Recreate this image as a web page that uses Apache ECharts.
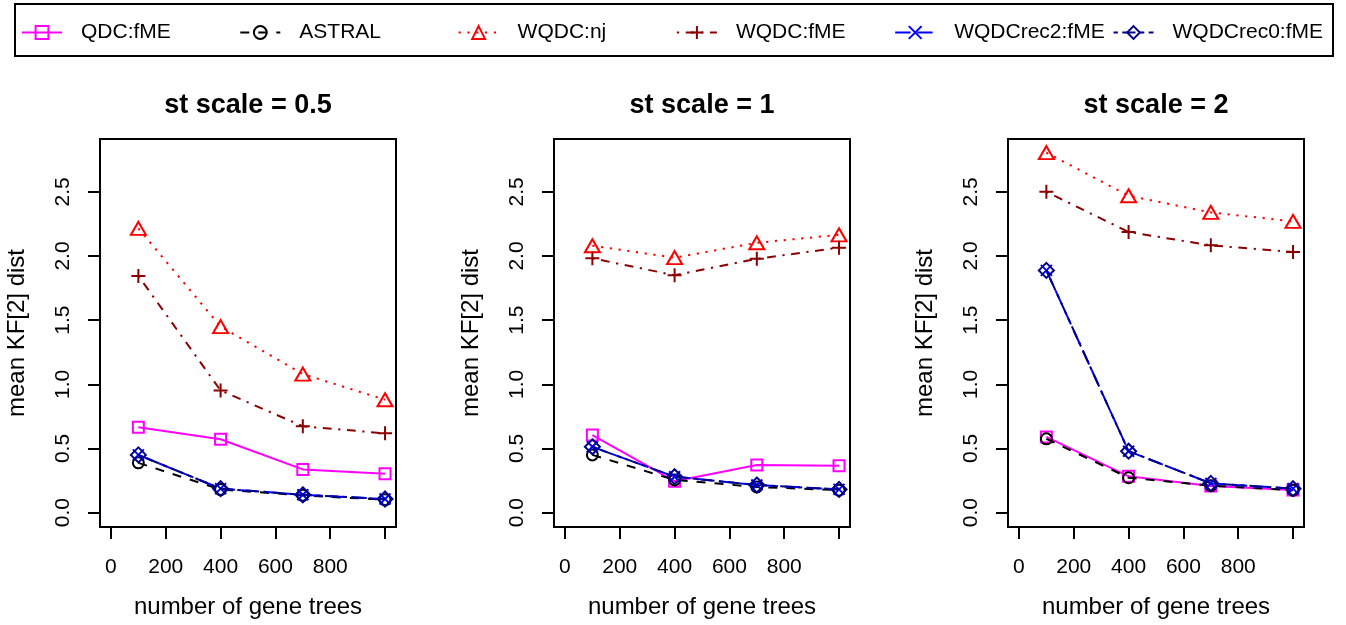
<!DOCTYPE html>
<html><head><meta charset="utf-8">
<script src="https://cdn.jsdelivr.net/npm/echarts@6/dist/echarts.min.js"></script>
<style>html,body{margin:0;padding:0;background:#fff}#c{width:1346px;height:625px}</style>
</head><body><div id="c"></div>
<script>
// ---- data ----
const geneTrees = [100, 400, 700, 1000];
const panelTitles = ['st scale = 0.5', 'st scale = 1', 'st scale = 2'];
const xTicks = [0, 200, 400, 600, 800, 1000];
const xTickLabels = [0, 200, 400, 600, 800];
const yTicks = [0, 0.5, 1, 1.5, 2, 2.5];
const seriesNames = ['QDC:fME', 'ASTRAL', 'WQDC:nj', 'WQDC:fME', 'WQDCrec2:fME', 'WQDCrec0:fME'];
// values per panel: [st scale 0.5, st scale 1, st scale 2]
const qdcFME     = [[0.665, 0.572, 0.337, 0.303], [0.605, 0.245, 0.372, 0.365], [0.590, 0.283, 0.207, 0.176]];
const astral     = [[0.388, 0.180, 0.135, 0.100], [0.450, 0.255, 0.200, 0.175], [0.575, 0.272, 0.210, 0.175]];
const wqdcNj     = [[2.215, 1.450, 1.080, 0.880], [2.080, 1.987, 2.103, 2.165], [2.806, 2.470, 2.340, 2.270]];
const wqdcFME    = [[1.845, 0.952, 0.673, 0.618], [1.982, 1.850, 1.978, 2.065], [2.500, 2.187, 2.083, 2.031]];
const wqdcRec2   = [[0.450, 0.187, 0.139, 0.106], [0.513, 0.280, 0.215, 0.181], [1.888, 0.479, 0.228, 0.187]];
const wqdcRec0   = [[0.450, 0.187, 0.139, 0.106], [0.513, 0.280, 0.215, 0.181], [1.888, 0.479, 0.228, 0.187]];

// ---- styles ----
const seriesValues = [qdcFME, astral, wqdcNj, wqdcFME, wqdcRec2, wqdcRec0];
const colors = ['#FF00FF', '#000000', '#FF0000', '#8B0000', '#0000FF', '#00008B'];
const dashes = ['solid', [9, 9], [2.2, 6.6], [2.2, 6.6, 8.8, 6.6], [15.4, 6.6], [4.4, 4.4, 13.2, 4.4]];
const symbols = ['rect', 'circle', 'triangle', 'path://M5,0L5,10M0,5L10,5', 'path://M0,0L10,10M10,0L0,10', 'diamond'];
const symbolSizes = [11, 11, [15, 13], 14, 11, 15];

const FONT = '"Liberation Sans", Arial, Helvetica, sans-serif';
const gridLeft0 = 100, gridStep = 454, gridW = 296, gridTop = 139, gridH = 388;
const legendLeft0 = 21, legendStep = 218.3;

const grids = [], xAxes = [], yAxes = [], titles = [], series = [];
for (let p = 0; p < 3; p++) {
  const left = gridLeft0 + p * gridStep;
  grids.push({left: left, top: gridTop, width: gridW, height: gridH, show: true,
    borderColor: '#000', borderWidth: 2, backgroundColor: 'transparent', containLabel: false});
  xAxes.push({gridIndex: p, type: 'value', min: -40, max: 1040,
    axisLine: {show: false, onZero: false}, splitLine: {show: false},
    axisTick: {show: true, customValues: xTicks, length: 12, lineStyle: {color: '#000', width: 2}},
    axisLabel: {customValues: xTickLabels, margin: 30, fontSize: 21, color: '#000', fontFamily: FONT},
    name: 'number of gene trees', nameLocation: 'middle', nameGap: 68,
    nameTextStyle: {fontSize: 24, color: '#000', fontFamily: FONT}});
  yAxes.push({gridIndex: p, type: 'value', min: -0.112, max: 2.912,
    axisLine: {show: false, onZero: false}, splitLine: {show: false},
    axisTick: {show: true, customValues: yTicks, length: 12, lineStyle: {color: '#000', width: 2}},
    axisLabel: {customValues: yTicks, rotate: 90, margin: 26, fontSize: 21, color: '#000', fontFamily: FONT,
      formatter: v => v.toFixed(1)},
    name: 'mean KF[2] dist', nameLocation: 'middle', nameGap: 71,
    nameTextStyle: {fontSize: 24, color: '#000', fontFamily: FONT}});
  titles.push({text: panelTitles[p], left: left + gridW / 2, top: 92, textAlign: 'center', padding: 0,
    textStyle: {fontSize: 27, fontWeight: 'bold', color: '#000', fontFamily: FONT}});
  for (let s = 0; s < seriesNames.length; s++) {
    series.push({
      name: seriesNames[s], type: 'line', xAxisIndex: p, yAxisIndex: p,
      data: geneTrees.map((x, i) => [x, seriesValues[s][p][i]]),
      symbol: symbols[s], symbolSize: symbolSizes[s], showAllSymbol: true,
      lineStyle: {color: colors[s], width: 2, type: dashes[s]},
      itemStyle: {color: 'transparent', borderColor: colors[s], borderWidth: 2},
      emphasis: {disabled: true}, z: 2 + s
    });
  }
}

const legends = seriesNames.map((name, k) => ({
  data: [name], left: legendLeft0 + k * legendStep, top: 22, orient: 'horizontal', padding: 0,
  itemWidth: 40, itemHeight: 16, itemGap: 0, selectedMode: false,
  formatter: n => '{t|' + n + '}',
  textStyle: {fontSize: 21, color: '#000', fontFamily: FONT,
    rich: {t: {fontSize: 21, color: '#000', fontFamily: FONT, padding: [0, 0, 0, 14]}}}
}));

const chart = echarts.init(document.getElementById('c'), null, {renderer: 'canvas'});
chart.setOption({
  animation: false,
  backgroundColor: '#fff',
  title: titles,
  grid: grids,
  xAxis: xAxes,
  yAxis: yAxes,
  legend: legends,
  graphic: [{type: 'rect', shape: {x: 15, y: 4, width: 1318, height: 52},
    style: {fill: 'none', stroke: '#000', lineWidth: 2}, silent: true}],
  series: series
});
</script></body></html>
